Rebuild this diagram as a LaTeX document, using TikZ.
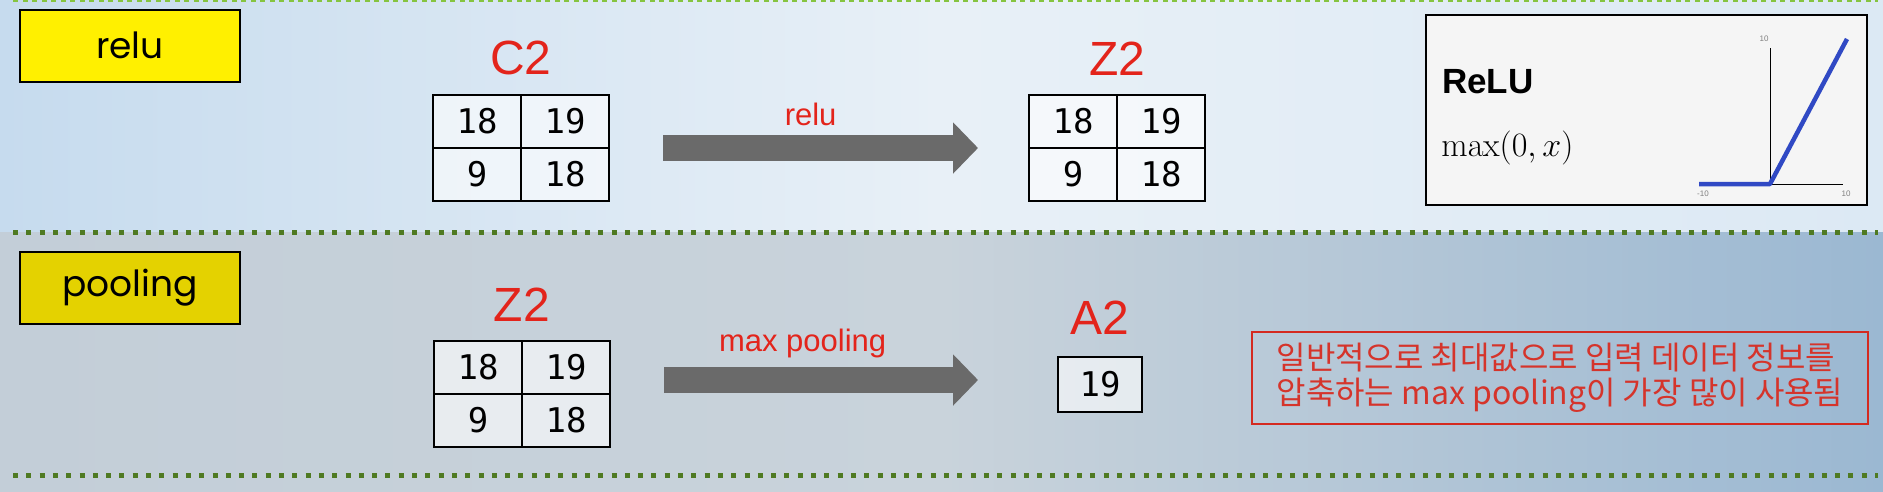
\documentclass[tikz,border=0pt]{standalone}
\usepackage[no-math]{fontspec}
\setmainfont{Liberation Sans}
\newfontfamily\tagfont{Poppins}
\newfontfamily\numfont{DejaVu Sans Mono}
\newfontfamily\krfont{Noto Sans CJK KR}
\usetikzlibrary{arrows.meta,positioning}
\definecolor{Cred}{HTML}{E3241B}
\definecolor{Cbox}{HTML}{D42A20}
\definecolor{Ckr}{HTML}{D5342B}
\definecolor{Cyel}{HTML}{FFF000}
\definecolor{Cyeldark}{HTML}{E4D200}
\definecolor{Cgreen}{HTML}{4F7A22}
\definecolor{Clight}{HTML}{86C440}
\definecolor{Cgrey}{HTML}{6A6A6A}
\definecolor{Cblue}{HTML}{3049C4}
\definecolor{bgUL}{HTML}{C6DBEE}
\definecolor{bgUM}{HTML}{E8F0F7}
\definecolor{bgUR}{HTML}{DCE9F4}
\definecolor{bgLL}{HTML}{C3CED8}
\definecolor{bgLM}{HTML}{C9D3DB}
\definecolor{bgLR}{HTML}{9BB8D2}

\tikzset{
  tagbox/.style={draw, line width=2pt, minimum width=220pt, minimum height=72pt,
    inner sep=0pt, outer sep=0pt, font=\tagfont\fontsize{36}{36}\selectfont},
  cell/.style={draw, line width=1.5pt, fill=white, fill opacity=0.6, text opacity=1,
    minimum width=88pt, minimum height=53pt, inner sep=0pt, outer sep=0pt,
    font=\numfont\fontsize{34}{34}\selectfont},
  matlbl/.style={text=Cred, inner sep=0pt, outer sep=0pt, font=\fontsize{48}{48}\selectfont},
  oplbl/.style={text=Cred, inner sep=0pt, outer sep=0pt, font=\fontsize{31}{31}\selectfont},
  blockarrow/.style={draw=Cgrey, line width=26pt, -{Triangle[length=25pt,width=50pt]}},
  sepline/.style={Cgreen, line width=5pt, dash pattern=on 5pt off 8.3pt},
  tick/.style={text=gray, inner sep=0pt, font=\fontsize{8}{8}\selectfont},
}

\begin{document}
\begin{tikzpicture}[x=1pt, y=-1pt]

\useasboundingbox (0,0) rectangle (1883,491);

% background
\shade[left color=bgUL, right color=bgUR, middle color=bgUM] (0,0) rectangle (1883,232);
\shade[left color=bgLL, right color=bgLR, middle color=bgLM] (0,232) rectangle (1883,491);

% separators
\draw[Clight, line width=3pt, dash pattern=on 5pt off 4.5pt] (13,0.5) -- (1878,0.5);
\draw[sepline] (13,232) -- (1878,232);
\draw[sepline] (13,475) -- (1878,475);

% row labels
\node[tagbox, fill=Cyel] (relubox) at (130,45.5) {relu};
\node[tagbox, fill=Cyeldark] (poolbox) at (130,288) {pooling};

% relu row: C2 -> Z2
\node[cell] (c2a) at (477,121.5) {18};
\node[cell, right=0pt of c2a] (c2b) {19};
\node[cell, below=0pt of c2a] (c2c) {9};
\node[cell, right=0pt of c2c] (c2d) {18};
\node[matlbl, above=20pt of c2a.north east, anchor=south] (c2lbl) {C2};

\node[cell] (z2a) at (1073,121.5) {18};
\node[cell, right=0pt of z2a] (z2b) {19};
\node[cell, below=0pt of z2a] (z2c) {9};
\node[cell, right=0pt of z2c] (z2d) {18};
\node[matlbl, above=20pt of z2a.north east, anchor=south] (z2lbl) {Z2};

\draw[blockarrow, shorten <=54pt, shorten >=51pt] (c2b.south east) --
  node[oplbl, above=22pt, pos=0.48] (relulbl) {relu} (z2a.south west);

% relu plot
\node[draw, line width=2.5pt, fill=white!96!black, minimum width=441pt, minimum height=190pt,
  inner sep=0pt, outer sep=0pt] (relupanel) at (1646.5,110) {};
\node[anchor=base west, inner sep=0pt, font=\bfseries\fontsize{35}{35}\selectfont] (relutitle) at (1442,93) {ReLU};
\node[anchor=base west, inner sep=0pt, scale=1.37, font=\Huge] (relufn) at (1441,156) {$\max(0,x)$};
\coordinate (origin) at (1770,184);
\draw[line width=1pt] (origin) -- (1770,48);
\draw[line width=1pt] (1699,184) -- (1843,184);
\draw[Cblue, line width=4.5pt, line join=round] (1699,184) -- (origin) -- (1847,39);
\node[tick] (ytop) at (1764,39) {10};
\node[tick] (xleft) at (1703,194) {-10};
\node[tick] (xright) at (1846,194) {10};

% pooling row: Z2 -> A2
\node[cell] (zpa) at (478,367.5) {18};
\node[cell, right=0pt of zpa] (zpb) {19};
\node[cell, below=0pt of zpa] (zpc) {9};
\node[cell, right=0pt of zpc] (zpd) {18};
\node[matlbl, above=20pt of zpa.north east, anchor=south] (zplbl) {Z2};

\node[cell, minimum width=84pt, minimum height=55pt] (a2box) at (1100,384.5) {19};
\node[matlbl, above=23pt of a2box] (a2lbl) {A2};

\draw[blockarrow, shorten <=54pt, shorten >=80pt] ([yshift=4.5pt]zpb.north east |- a2box.west) --
  node[oplbl, above=22pt, pos=0.43] (poollbl) {max pooling} ([yshift=4.5pt]a2box.west);

% note
\node[draw=Cbox, line width=2.5pt, text=Ckr, align=left, minimum width=616pt, minimum height=92pt,
  font=\krfont\fontsize{32}{35}\selectfont] (note) at (1560,378)
  {일반적으로 최대값으로 입력 데이터 정보를\\압축하는 max pooling이 가장 많이 사용됨};

\end{tikzpicture}
\end{document}
